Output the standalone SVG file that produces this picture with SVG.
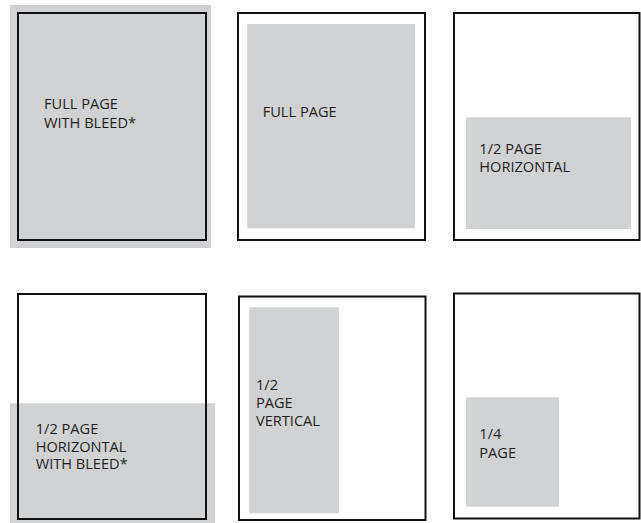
<svg xmlns="http://www.w3.org/2000/svg" width="641" height="523" viewBox="0 0 641 523">
<style>
.ad{fill:#d1d2d4;}
.pg{fill:none;stroke:#111;stroke-width:2;}
.lb{font-family:"Open Sans","Liberation Sans",sans-serif;font-size:14.6px;fill:#231f20;}
</style>
<rect x="0" y="0" width="641" height="523" fill="#fff"/>
<g id="full-page-bleed">
<rect class="ad" x="10" y="5" width="201" height="243"/>
<rect class="pg" x="18" y="13" width="188" height="227"/>
<text class="lb" x="44" y="108.5">FULL PAGE</text>
<text class="lb" x="44" y="127.5">WITH BLEED*</text>
</g>
<g id="full-page">
<rect class="pg" x="238" y="13" width="187" height="227"/>
<rect class="ad" x="247.3" y="24" width="167.7" height="204.3"/>
<text class="lb" x="262.7" y="117.3">FULL PAGE</text>
</g>
<g id="half-page-horizontal">
<rect class="pg" x="454" y="13" width="185.5" height="227"/>
<rect class="ad" x="466" y="117.3" width="165" height="111.7"/>
<text class="lb" x="479.3" y="154">1/2 PAGE</text>
<text class="lb" x="479.3" y="171.7">HORIZONTAL</text>
</g>
<g id="half-page-horizontal-bleed">
<rect class="ad" x="10" y="403.3" width="205" height="119.7"/>
<rect class="pg" x="18" y="294" width="188" height="225"/>
<text class="lb" x="35.7" y="434">1/2 PAGE</text>
<text class="lb" x="35.7" y="451.7">HORIZONTAL</text>
<text class="lb" x="35.7" y="469.3">WITH BLEED*</text>
</g>
<g id="half-page-vertical">
<rect class="pg" x="239" y="296.5" width="186.5" height="223.5"/>
<rect class="ad" x="249.3" y="307.3" width="89.7" height="206"/>
<text class="lb" x="256" y="390">1/2</text>
<text class="lb" x="256" y="407.7">PAGE</text>
<text class="lb" x="256" y="425.7">VERTICAL</text>
</g>
<g id="quarter-page">
<rect class="pg" x="454" y="293.5" width="185.5" height="225"/>
<rect class="ad" x="466" y="397.3" width="93" height="109.4"/>
<text class="lb" x="479.3" y="439.3">1/4</text>
<text class="lb" x="479.3" y="457.7">PAGE</text>
</g>
<g id="connectors"></g>
</svg>
